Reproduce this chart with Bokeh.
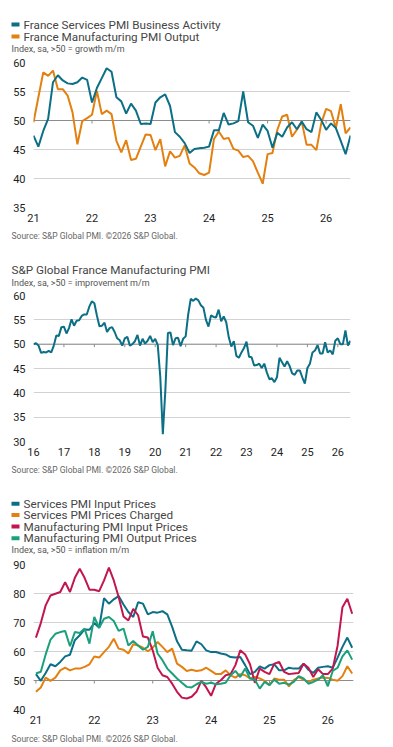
from bokeh.plotting import figure
from bokeh.layouts import column
from bokeh.models import Range1d, FixedTicker, Span
from bokeh.core.properties import value
from bokeh.embed import file_html
from bokeh.resources import INLINE

FONT = "Roboto"
TEAL = "#0b6f86"
ORANGE = "#e3800f"
CRIMSON = "#c2164f"
GREEN = "#1aa07b"
GRID = "#d2d2d2"
BASE = "#8c8c8c"
TEXT = "#454545"
SOURCE = "Source: S&P Global PMI. \u00a92026 S&P Global."

# ---- Chart 1: services activity vs manufacturing output (monthly from Jan 2021)
c1_start = 2021
c1_services_activity = [
    47.4, 45.5, 48.2, 50.3, 56.6, 57.8, 56.9, 56.4, 56.3, 56.6, 57.4, 57.0,
    53.1, 55.6, 57.3, 59.0, 58.4, 54.0, 53.3, 51.2, 52.9, 51.7, 49.4, 49.5,
    49.4, 53.1, 54.0, 54.5, 52.5, 48.0, 47.2, 46.1, 44.4, 45.1, 45.2, 45.3,
    45.5, 48.3, 48.3, 51.3, 49.3, 49.5, 49.9, 55.0, 49.7, 49.1, 47.0, 49.3,
    48.2, 45.3, 47.9, 47.2, 48.8, 49.7, 48.5, 49.8, 48.5, 48.0, 51.4, 50.1,
    48.4, 49.5, 48.7, 46.5, 44.2, 47.4,
]
c1_manufacturing_output = [
    49.7, 54.0, 58.3, 57.7, 58.6, 55.4, 55.4, 54.3, 51.4, 45.9, 49.9, 50.4,
    51.0, 55.1, 51.1, 51.7, 51.1, 46.5, 44.5, 46.6, 43.2, 43.4, 45.5, 47.6,
    47.5, 44.9, 46.8, 42.1, 44.7, 43.6, 43.9, 45.7, 42.6, 41.9, 40.9, 40.6,
    41.0, 46.8, 48.1, 46.8, 47.0, 45.1, 44.8, 43.7, 43.9, 43.0, 41.0, 39.1,
    44.2, 44.4, 48.4, 50.7, 51.0, 47.2, 48.4, 49.8, 45.8, 45.8, 44.9, 49.5,
    52.0, 51.6, 48.7, 52.8, 47.8, 48.8,
]
c1_years = [2021, 2022, 2023, 2024, 2025, 2026]
c1_year_labels = ["21", "22", "23", "24", "25", "26"]
c1_legend = ["France Services PMI Business Activity", "France Manufacturing PMI Output"]
c1_subtitle = "Index, sa, >50 = growth m/m"

# ---- Chart 2: headline manufacturing PMI (monthly from Jan 2016)
c2_start = 2016
c2_manufacturing_pmi = [
    50.0, 50.2, 49.7, 48.2, 48.4, 48.3, 48.6, 48.3, 49.7, 51.8, 51.7, 53.5,
    53.6, 52.2, 53.3, 55.1, 53.8, 54.8, 54.9, 55.8, 56.1, 56.1, 57.7, 58.8,
    58.4, 55.9, 53.7, 53.8, 54.4, 52.5, 53.3, 53.5, 52.5, 51.2, 50.8, 49.7,
    51.2, 51.5, 49.7, 50.0, 50.6, 51.9, 49.7, 51.1, 50.1, 50.7, 51.7, 50.4,
    51.1, 49.8, 43.2, 31.5, 40.6, 52.3, 52.4, 49.8, 51.2, 51.3, 49.6, 51.1,
    51.6, 56.1, 59.3, 58.9, 59.4, 59.0, 58.0, 57.5, 55.0, 53.6, 55.9, 55.6,
    55.5, 57.1, 54.7, 55.7, 54.5, 51.4, 49.5, 50.6, 47.6, 47.2, 48.3, 49.2,
    50.5, 47.4, 47.3, 45.6, 45.7, 46.0, 45.1, 46.0, 44.2, 42.8, 43.0, 42.2,
    43.2, 47.2, 46.3, 45.4, 46.5, 45.5, 44.0, 43.7, 44.6, 44.6, 43.2, 41.9,
    45.1, 46.0, 48.3, 48.7, 49.8, 48.1, 48.1, 50.4, 48.3, 48.7, 47.9, 50.7,
    51.2, 50.0, 50.0, 52.8, 49.7, 50.7,
]
c2_years = list(range(2016, 2027))
c2_year_labels = ["16", "17", "18", "19", "20", "21", "22", "23", "24", "25", "26"]
c2_title = "S&P Global France Manufacturing PMI"
c2_subtitle = "Index, sa, >50 = improvement m/m"

# ---- Chart 3: price gauges (monthly from Jan 2021)
c3_start = 2021
c3_services_input = [
    52.2, 49.9, 52.6, 55.6, 54.9, 56.4, 58.3, 58.9, 63.9, 65.6, 67.6, 67.5,
    69.8, 68.2, 78.4, 76.5, 78.0, 79.1, 76.2, 73.6, 71.9, 77.0, 76.5, 72.8,
    73.6, 73.4, 73.9, 72.8, 68.5, 63.5, 60.6, 60.4, 60.3, 63.5, 62.5, 60.4,
    59.8, 59.8, 59.3, 59.0, 58.1, 57.9, 58.1, 55.3, 52.2, 53.0, 54.9, 54.1,
    55.3, 55.6, 53.5, 53.5, 54.4, 54.1, 54.1, 55.8, 53.7, 52.6, 54.4, 54.7,
    54.9, 54.4, 57.9, 61.6, 64.8, 61.3,
]
c3_services_charged = [
    46.1, 47.6, 51.0, 49.9, 51.0, 53.5, 54.4, 53.5, 54.1, 54.1, 54.7, 55.6,
    58.3, 57.9, 59.8, 61.6, 64.4, 61.0, 60.6, 59.3, 62.5, 62.1, 61.3, 60.1,
    61.3, 63.3, 61.6, 59.8, 61.0, 55.8, 54.7, 53.3, 53.7, 53.3, 53.5, 54.4,
    53.3, 52.2, 52.2, 53.5, 51.8, 51.0, 52.2, 51.8, 50.7, 51.2, 50.7, 49.9,
    48.4, 50.7, 50.3, 50.3, 48.0, 50.1, 51.2, 50.3, 49.5, 50.3, 50.7, 51.0,
    50.9, 50.3, 49.9, 51.5, 54.9, 52.4,
]
c3_manufacturing_input = [
    64.8, 69.8, 75.9, 79.3, 79.9, 80.5, 83.9, 80.5, 85.4, 88.5, 85.4, 81.3,
    81.3, 80.8, 84.5, 88.9, 84.5, 78.8, 72.1, 70.7, 74.7, 72.5, 65.2, 64.8,
    60.4, 54.4, 51.8, 51.2, 48.9, 46.1, 44.1, 43.8, 44.4, 46.1, 49.9, 47.6,
    44.7, 48.9, 50.1, 51.8, 52.2, 55.3, 60.4, 59.0, 55.6, 49.2, 54.1, 53.0,
    52.2, 55.8, 56.4, 53.0, 52.2, 52.4, 52.6, 55.8, 54.4, 51.2, 53.9, 52.2,
    52.2, 54.1, 62.0, 75.3, 78.2, 73.0,
]
c3_manufacturing_output = [
    52.4, 53.0, 59.0, 64.1, 66.1, 66.7, 67.1, 61.8, 66.7, 66.4, 67.9, 62.7,
    71.9, 68.2, 71.3, 71.9, 70.5, 67.1, 67.9, 62.1, 63.6, 62.1, 60.6, 61.6,
    67.0, 59.3, 57.0, 54.1, 52.4, 50.7, 49.2, 47.8, 47.6, 48.7, 49.5, 48.9,
    49.2, 48.7, 48.9, 49.2, 51.8, 53.3, 51.2, 54.1, 50.7, 50.3, 47.2, 49.5,
    48.4, 50.3, 48.9, 49.2, 48.6, 49.5, 51.5, 50.7, 48.9, 49.5, 50.3, 51.8,
    48.0, 53.3, 54.4, 58.3, 60.4, 57.2,
]
c3_years = [2021, 2022, 2023, 2024, 2025, 2026]
c3_year_labels = ["21", "22", "23", "24", "25", "26"]
c3_legend = ["Services PMI Input Prices", "Services PMI Prices Charged",
             "Manufacturing PMI Input Prices", "Manufacturing PMI Output Prices"]
c3_subtitle = "Index, sa, >50 = inflation m/m"


def months(start, n):
    return [start + i / 12 for i in range(n)]


def no_align(p):
    # keep each canvas' frame where its own borders put it
    if "frame_align" in p.properties():
        p.frame_align = False
    return p


def panel(height):
    """A plain strip (pixel coordinates, y pointing down) for titles, legends and notes."""
    p = figure(width=393, height=height, output_backend="svg", toolbar_location=None,
               x_range=Range1d(0, 393), y_range=Range1d(height, 0),
               x_axis_type=None, y_axis_type=None,
               min_border_left=0, min_border_right=0, min_border_top=0, min_border_bottom=0,
               background_fill_color="white", border_fill_color="white")
    p.outline_line_color = None
    return no_align(p)


def write(p, x, y, text, size, color=TEXT):
    p.text(x=[x], y=[y], text=[text], text_font=value(FONT), text_font_size=value(size),
           text_color=color, text_baseline="middle", text_align="left")


def legend(p, x, ys, labels, colors, size="11.7px"):
    p.quad(left=[x] * len(ys), right=[x + 8] * len(ys),
           top=[y - 2 for y in ys], bottom=[y + 2 for y in ys],
           fill_color=colors, line_color=None)
    for y, lab in zip(ys, labels):
        write(p, x + 12, y, lab, size)


def chart(height, bottom, right, x_range, y_range, y_ticks, years, year_labels, frame_h):
    p = figure(width=393, height=height, output_backend="svg", toolbar_location=None,
               x_range=Range1d(*x_range), y_range=Range1d(*y_range),
               min_border_left=33, min_border_right=right,
               min_border_top=7, min_border_bottom=bottom,
               background_fill_color="white", border_fill_color="white")
    no_align(p)
    p.outline_line_color = None
    p.xgrid.visible = False
    p.ygrid.ticker = FixedTicker(ticks=y_ticks)
    p.ygrid.grid_line_color = GRID
    p.ygrid.grid_line_width = 1
    for ax in (p.xaxis, p.yaxis):
        ax.axis_line_color = None
        ax.major_tick_line_color = None
        ax.major_tick_out = 0
        ax.major_tick_in = 0
        ax.minor_tick_line_color = None
        ax.major_label_text_font = FONT
        ax.major_label_text_font_size = "11px"
        ax.major_label_text_color = "#1e1e1e"
    p.yaxis.ticker = FixedTicker(ticks=y_ticks)
    p.yaxis.major_label_standoff = 8
    p.xaxis.ticker = FixedTicker(ticks=years)
    p.xaxis.major_label_standoff = 6
    p.xaxis.major_label_overrides = {y: lab for y, lab in zip(years, year_labels)}
    # darker 50 line with small year ticks hanging from it
    p.add_layout(Span(location=50, dimension="width", line_color=BASE, line_width=1, level="underlay"))
    tick_len = 3 * (y_range[1] - y_range[0]) / frame_h
    inner = [y for y in years if x_range[0] < y < x_range[1]]
    p.segment(x0=inner, x1=inner, y0=[50] * len(inner), y1=[50 - tick_len] * len(inner),
              line_color=BASE, line_width=1)
    return p


# ---- chart 1
head1 = panel(55)
legend(head1, 11, [24, 36], c1_legend, [TEAL, ORANGE])
write(head1, 11, 48, c1_subtitle, "9px", "#555555")

p1 = chart(175, 23, 43, (c1_start, c1_start + 65 / 12), (35, 60),
           list(range(35, 61, 5)), c1_years, c1_year_labels, 145)
x1 = months(c1_start, len(c1_services_activity))
p1.line(x1, c1_manufacturing_output, line_color=ORANGE, line_width=2)
p1.line(x1, c1_services_activity, line_color=TEAL, line_width=2)

# ---- chart 2
head2 = panel(58)
write(head2, 11, 5, SOURCE, "8.5px", "#666666")
write(head2, 11, 39.5, c2_title, "11.7px")
write(head2, 11, 52, c2_subtitle, "9px", "#555555")

p2 = chart(176, 23, 43, (c2_start, c2_start + 125 / 12), (30, 60),
           list(range(30, 61, 5)), c2_years, c2_year_labels, 146)
x2 = months(c2_start, len(c2_manufacturing_pmi))
p2.line(x2, c2_manufacturing_pmi, line_color=TEAL, line_width=2)

# ---- chart 3
c3_colors = [TEAL, ORANGE, CRIMSON, GREEN]
head3 = panel(93)
write(head3, 11, 5, SOURCE, "8.5px", "#666666")
legend(head3, 11, [39.3, 50.5, 62, 73.7], c3_legend, c3_colors)
write(head3, 11, 85.3, c3_subtitle, "9px", "#555555")

pad_l = 0.5 / 12
pad_r = 0.27 / 12
p3 = chart(176, 24, 40, (c3_start - pad_l, c3_start + 65 / 12 + pad_r), (40, 90),
           list(range(40, 91, 10)), c3_years, c3_year_labels, 145)
x3 = months(c3_start, len(c3_services_input))
for ys, col in zip([c3_services_input, c3_services_charged,
                    c3_manufacturing_input, c3_manufacturing_output], c3_colors):
    p3.line(x3, ys, line_color=col, line_width=2)

foot3 = panel(14)
write(foot3, 11, 5, SOURCE, "8.5px", "#666666")

layout = column(head1, p1, head2, p2, head3, p3, foot3, spacing=0)
open("out.html", "w").write(file_html(layout, INLINE))
